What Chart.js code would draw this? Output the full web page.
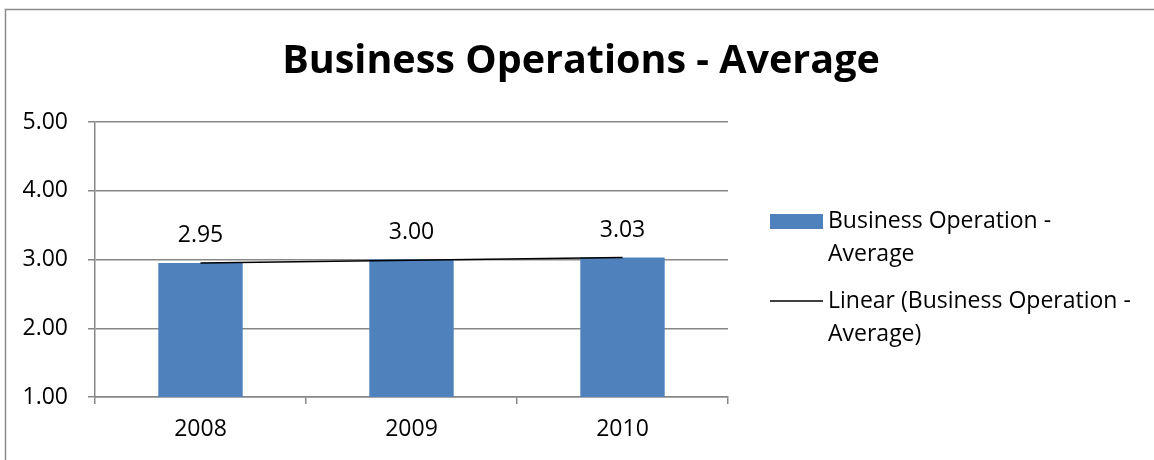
<!DOCTYPE html>
<html>
<head>
<meta charset="utf-8">
<script src="https://cdn.jsdelivr.net/npm/chart.js@4/dist/chart.umd.min.js"></script>
<style>
  html, body { margin: 0; padding: 0; background: #fff; }
  #wrap { width: 1154px; height: 460px; position: relative; }
</style>
</head>
<body>
<div id="wrap"><canvas id="chart" width="1154" height="460"></canvas></div>
<script>
// data
const years = ['2008', '2009', '2010'];
const averages = [2.95, 3.00, 3.03];
const trendValues = [2.95, 2.99, 3.03];
const yTicks = [1, 2, 3, 4, 5];

const chartTitle = 'Business Operations - Average';
const barLabel = 'Business Operation - Average';
const trendLabel = 'Linear (Business Operation - Average)';

const FONT = '"Open Sans", "Liberation Sans", sans-serif';
const GRID = '#878787';
const BLUE = '#4F81BD';

// outer frame + title (centred over the whole frame, not just the plot)
const framePlugin = {
    id: 'frame',
    beforeDraw(chart) {
        const ctx = chart.ctx;
        ctx.save();
        ctx.strokeStyle = '#8c8c8c';
        ctx.lineWidth = 1.5;
        ctx.beginPath();
        ctx.moveTo(5.5, 460);
        ctx.lineTo(5.5, 9.5);
        ctx.lineTo(1154, 9.5);
        ctx.stroke();

        ctx.font = 'bold 39.5px ' + FONT;
        ctx.fillStyle = '#000';
        ctx.textAlign = 'center';
        ctx.textBaseline = 'alphabetic';
        ctx.fillText(chartTitle, 581, 73);
        ctx.restore();
    }
};

// value labels above the bars
const valueLabels = {
    id: 'valueLabels',
    afterDatasetsDraw(chart) {
        const ctx = chart.ctx;
        const meta = chart.getDatasetMeta(0);
        ctx.save();
        ctx.font = '23px ' + FONT;
        ctx.fillStyle = '#000';
        ctx.textAlign = 'center';
        ctx.textBaseline = 'middle';
        meta.data.forEach((bar, i) => {
            ctx.fillText(averages[i].toFixed(2), bar.x, bar.y - 27);
        });
        ctx.restore();
    }
};

// legend on the right, wrapped like the original
const sideLegend = {
    id: 'sideLegend',
    afterDraw(chart) {
        const ctx = chart.ctx;
        ctx.save();
        ctx.font = '23px ' + FONT;
        ctx.textAlign = 'left';
        ctx.textBaseline = 'middle';

        ctx.fillStyle = BLUE;
        ctx.fillRect(770, 214, 53, 15);
        ctx.fillStyle = '#000';
        ctx.fillText('Business Operation -', 828, 221);
        ctx.fillText('Average', 828, 254);

        ctx.strokeStyle = '#000';
        ctx.lineWidth = 1.5;
        ctx.beginPath();
        ctx.moveTo(770, 301);
        ctx.lineTo(823, 301);
        ctx.stroke();
        ctx.fillText('Linear (Business Operation -', 828, 301);
        ctx.fillText('Average)', 828, 334);
        ctx.restore();
    }
};

new Chart(document.getElementById('chart'), {
    type: 'bar',
    data: {
        labels: years,
        datasets: [
            {
                label: barLabel,
                data: averages,
                backgroundColor: BLUE,
                barPercentage: 0.4,
                categoryPercentage: 1,
                order: 2
            },
            {
                type: 'line',
                label: trendLabel,
                data: trendValues,
                borderColor: '#000',
                borderWidth: 1.5,
                pointRadius: 0,
                fill: false,
                order: 1
            }
        ]
    },
    options: {
        responsive: false,
        animation: false,
        layout: { padding: { left: 0, right: 426, top: 122, bottom: 0 } },
        plugins: {
            legend: { display: false },
            tooltip: { enabled: false },
            title: { display: false }
        },
        scales: {
            x: {
                offset: true,
                grid: {
                    offset: true,
                    drawOnChartArea: false,
                    drawTicks: true,
                    tickLength: 7,
                    color: GRID,
                    lineWidth: 1.5
                },
                border: { display: true, color: GRID, width: 1.5 },
                ticks: {
                    color: '#000',
                    font: { family: FONT, size: 23 },
                    padding: 12
                },
                afterFit(scale) { scale.height = 63; }
            },
            y: {
                min: 1,
                max: 5,
                afterBuildTicks(scale) {
                    scale.ticks = yTicks.map(v => ({ value: v }));
                },
                grid: {
                    color: GRID,
                    lineWidth: 1.5,
                    tickLength: 7
                },
                border: { display: true, color: GRID, width: 1.5 },
                ticks: {
                    color: '#000',
                    font: { family: FONT, size: 23 },
                    padding: 20,
                    callback: v => Number(v).toFixed(2)
                },
                afterFit(scale) { scale.width = 95; }
            }
        }
    },
    plugins: [framePlugin, valueLabels, sideLegend]
});
</script>
</body>
</html>
